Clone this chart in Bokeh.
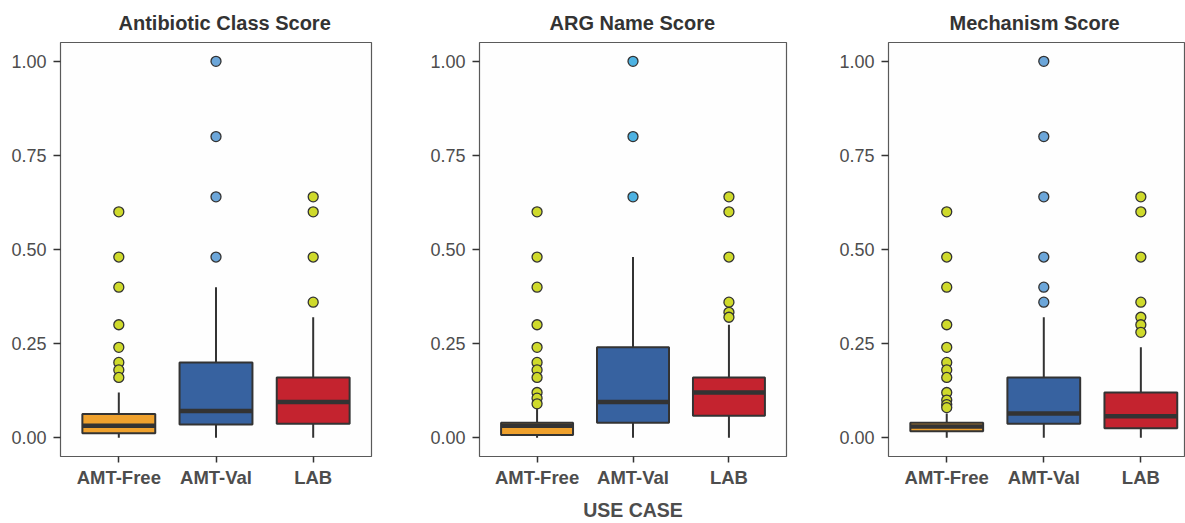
from bokeh.plotting import figure
from bokeh.layouts import row
from bokeh.models import FixedTicker, NumeralTickFormatter, Range1d, ColumnDataSource
from bokeh.embed import file_html
from bokeh.resources import INLINE

# ---------------- data ----------------
categories = ["AMT-Free", "AMT-Val", "LAB"]
panel_titles = ["Antibiotic Class Score", "ARG Name Score", "Mechanism Score"]
x_label = "USE CASE"
y_ticks = [0.0, 0.25, 0.50, 0.75, 1.00]

# Antibiotic Class Score
class_lower = [0.0, 0.0, 0.0]
class_q1 = [0.012, 0.035, 0.037]
class_median = [0.032, 0.071, 0.095]
class_q3 = [0.063, 0.20, 0.16]
class_upper = [0.12, 0.40, 0.32]
class_out_free = [0.60, 0.48, 0.40, 0.30, 0.24, 0.20, 0.18, 0.16]
class_out_val = [1.00, 0.80, 0.64, 0.48]
class_out_lab = [0.64, 0.60, 0.48, 0.36]

# ARG Name Score
name_lower = [0.0, 0.0, 0.0]
name_q1 = [0.007, 0.04, 0.058]
name_median = [0.032, 0.095, 0.12]
name_q3 = [0.04, 0.24, 0.16]
name_upper = [0.08, 0.48, 0.30]
name_out_free = [0.60, 0.48, 0.40, 0.30, 0.24, 0.20, 0.18, 0.16, 0.12, 0.105, 0.09]
name_out_val = [1.00, 0.80, 0.64]
name_out_lab = [0.64, 0.60, 0.48, 0.36, 0.333, 0.32]

# Mechanism Score
mech_lower = [0.0, 0.0, 0.0]
mech_q1 = [0.017, 0.037, 0.025]
mech_median = [0.03, 0.064, 0.057]
mech_q3 = [0.04, 0.16, 0.12]
mech_upper = [0.064, 0.32, 0.24]
mech_out_free = [0.60, 0.48, 0.40, 0.30, 0.24, 0.20, 0.18, 0.16, 0.12, 0.10, 0.088, 0.08]
mech_out_val = [1.00, 0.80, 0.64, 0.48, 0.40, 0.36]
mech_out_lab = [0.64, 0.60, 0.48, 0.36, 0.32, 0.30, 0.28]

box_colors = ["#EFA12D", "#3762A0", "#C4232F"]
outlier_green = "#CFDA2B"
val_outlier_colors = ["#6CA6D9", "#4DB2E2", "#6CA6D9"]

panels = [
    (class_lower, class_q1, class_median, class_q3, class_upper,
     [class_out_free, class_out_val, class_out_lab]),
    (name_lower, name_q1, name_median, name_q3, name_upper,
     [name_out_free, name_out_val, name_out_lab]),
    (mech_lower, mech_q1, mech_median, mech_q3, mech_upper,
     [mech_out_free, mech_out_val, mech_out_lab]),
]

# layout (pixels)
fig_widths = [425, 411, 349]
borders_lr = [(60, 54), (54, 50), (52, 0)]
x_ends = [3.6, 3.6, 3.46]
title_offsets = [58, 70, 61]
FIG_H = 523
BOX_HALF = 0.375
TEXT = "#4D4D4D"
DARK = "#333333"
FONT = "Liberation Sans"

figs = []
for i, (lo, q1, med, q3, up, outs) in enumerate(panels):
    p = figure(width=fig_widths[i], height=FIG_H, output_backend="svg",
               toolbar_location=None, tools="",
               x_range=Range1d(0.4, x_ends[i]), y_range=Range1d(-0.05, 1.05),
               min_border_left=borders_lr[i][0], min_border_right=borders_lr[i][1],
               min_border_top=42, min_border_bottom=67)
    p.title.text = panel_titles[i]
    p.title.align = "left"
    p.title.offset = title_offsets[i]
    p.title.text_font = FONT
    p.title.text_font_size = "20px"
    p.title.text_font_style = "bold"
    p.title.text_color = DARK
    p.title.standoff = 17

    p.background_fill_color = "#FEFEFE"
    p.border_fill_color = "white"
    p.outline_line_color = "#5A5A5A"
    p.outline_line_width = 1.2
    p.xgrid.visible = False
    p.ygrid.visible = False

    xs = [j + 1 for j in range(len(categories))]
    src = ColumnDataSource(dict(
        x=xs,
        left=[x - BOX_HALF for x in xs], right=[x + BOX_HALF for x in xs],
        lo=lo, q1=q1, med=med, q3=q3, up=up, color=box_colors))

    # whiskers
    p.segment(x0="x", y0="q3", x1="x", y1="up", source=src, line_color=DARK, line_width=2)
    p.segment(x0="x", y0="lo", x1="x", y1="q1", source=src, line_color=DARK, line_width=2)
    # boxes
    p.quad(left="left", right="right", bottom="q1", top="q3", source=src,
           fill_color="color", line_color=DARK, line_width=2)
    # medians
    p.segment(x0="left", y0="med", x1="right", y1="med", source=src,
              line_color=DARK, line_width=4.5)
    # outliers
    for j, ov in enumerate(outs):
        col = val_outlier_colors[i] if j == 1 else outlier_green
        p.scatter([xs[j]] * len(ov), ov, size=10, marker="circle",
                  fill_color=col, line_color=DARK, line_width=1.3)

    # axes
    p.xaxis.ticker = FixedTicker(ticks=xs)
    p.xaxis.major_label_overrides = {x: c for x, c in zip(xs, categories)}
    p.yaxis.ticker = FixedTicker(ticks=y_ticks)
    p.yaxis.formatter = NumeralTickFormatter(format="0.00")
    for ax in (p.xaxis[0], p.yaxis[0]):
        ax.axis_line_color = None
        ax.major_tick_line_color = DARK
        ax.major_tick_line_width = 1.5
        ax.major_tick_in = 0
        ax.minor_tick_line_color = None
        ax.major_label_text_font = FONT
        ax.major_label_text_color = TEXT
        ax.major_label_text_font_size = "18px"
    p.xaxis.major_tick_out = 6
    p.xaxis.major_label_standoff = 4
    p.yaxis.major_tick_out = 7
    p.yaxis.major_label_standoff = 7
    p.xaxis.major_label_text_font_style = "bold"
    p.xaxis.major_label_text_font_size = "18.5px"
    if i == 1:
        p.xaxis.axis_label = x_label
        p.xaxis.axis_label_text_font = FONT
        p.xaxis.axis_label_text_font_size = "19.5px"
        p.xaxis.axis_label_text_font_style = "bold"
        p.xaxis.axis_label_text_color = TEXT
        p.xaxis.axis_label_standoff = 8
    figs.append(p)

layout = row(*figs, spacing=0)
open("out.html", "w").write(file_html(layout, INLINE))
